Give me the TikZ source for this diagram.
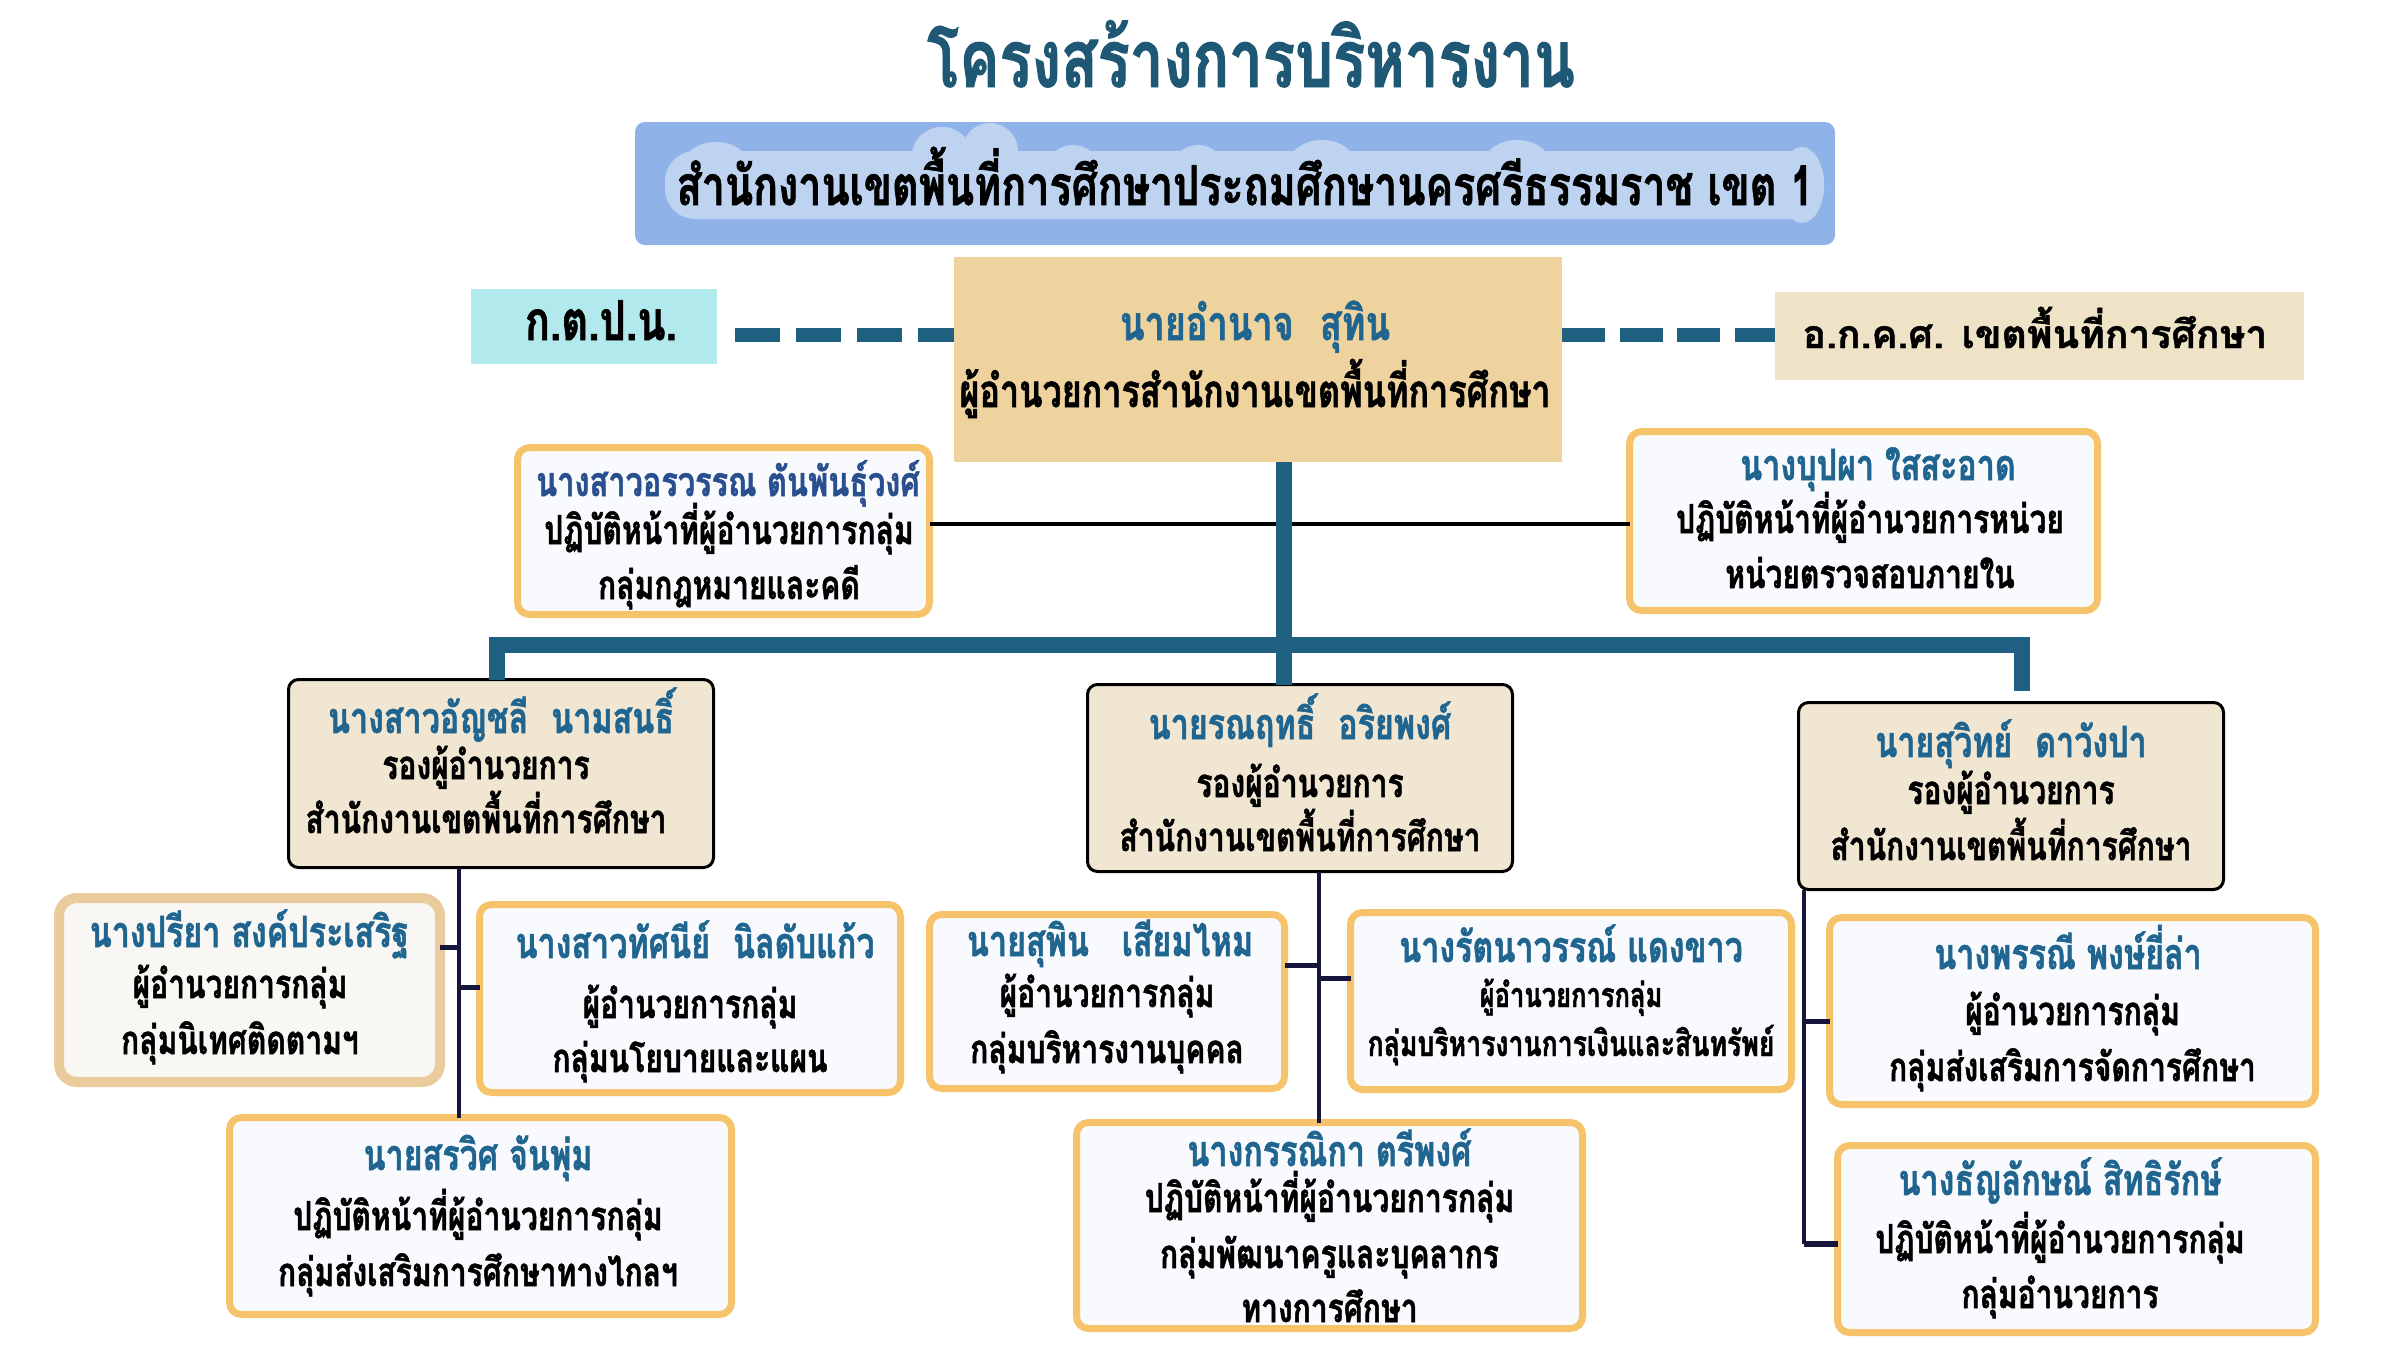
\documentclass[tikz,border=0pt]{standalone}
\usepackage{fontspec}
\setmainfont{Loma}[Script=Thai, FakeStretch=0.75, BoldFeatures={FakeBold=1.2}]
\newfontfamily\thaiwide{Loma}[Script=Thai, BoldFeatures={FakeBold=1.2}]
\definecolor{titlecol}{HTML}{1E5875}
\definecolor{bannerfill}{HTML}{8FB3E8}
\definecolor{glowfill}{HTML}{BDD3F0}
\definecolor{ktpnfill}{HTML}{B2E9ED}
\definecolor{dirfill}{HTML}{EED39E}
\definecolor{okksfill}{HTML}{EEE3C6}
\definecolor{teal}{HTML}{1F5F82}
\definecolor{nameblue}{HTML}{1F6590}
\definecolor{legalblue}{HTML}{2A4F8F}
\definecolor{orangeb}{HTML}{F6C36A}
\definecolor{boxfill}{HTML}{F8FAFD}
\definecolor{depfill}{HTML}{F1E6D2}
\definecolor{tanb}{HTML}{EACB9C}
\definecolor{tanfill}{HTML}{F9F7F3}
\definecolor{navy}{HTML}{16163A}
\begin{document}
\begin{tikzpicture}[x=1pt,y=-1pt,
  every node/.style={inner sep=0pt, outer sep=0pt},
  obox/.style={draw=orangeb, line width=7pt, rounded corners=12pt, fill=boxfill},
  dbox/.style={draw=black, line width=3pt, rounded corners=10pt, fill=depfill},
  tbox/.style={draw=tanb, line width=10pt, rounded corners=18pt, fill=tanfill},
  tx/.style={anchor=base, font=\bfseries\fontsize{40}{48}\selectfont},
  nm/.style={anchor=base, text=nameblue, font=\bfseries\fontsize{43}{50}\selectfont},
  bus/.style={draw=teal, line width=16pt},
  thin/.style={draw=navy, line width=4pt},
  stub/.style={draw=navy, line width=5pt},
  bump/.style={fill=glowfill, draw=none}]
\path[use as bounding box] (0,0) rectangle (2400,1350);

% title
\node[anchor=base, text=titlecol, font=\bfseries\fontsize{80}{90}\selectfont] (title) at (1251,87) {โครงสร้างการบริหารงาน};

% banner
\node[fill=bannerfill, rounded corners=10pt, minimum width=1200pt, minimum height=123pt] (banner) at (1235,183.5) {};
\node[fill=glowfill, rounded corners=30pt, minimum width=1159pt, minimum height=68pt] (glow) at (1244.5,185) {};
\fill[bump] (716,164) ellipse [x radius=32, y radius=22];
\fill[bump] (942,155) ellipse [x radius=30, y radius=28];
\fill[bump] (990,151) ellipse [x radius=28, y radius=28];
\fill[bump] (1073,165) ellipse [x radius=24, y radius=20];
\fill[bump] (1198,165) ellipse [x radius=24, y radius=20];
\fill[bump] (1322,162) ellipse [x radius=32, y radius=22];
\fill[bump] (1517,162) ellipse [x radius=32, y radius=22];
\fill[bump] (1802,185) ellipse [x radius=22, y radius=38];
\node[tx, font=\bfseries\fontsize{55}{64}\selectfont] (bannertext) at (1245,205) {สำนักงานเขตพื้นที่การศึกษาประถมศึกษานครศรีธรรมราช เขต 1};

% top row
\node[fill=ktpnfill, minimum width=246pt, minimum height=75pt] (ktpn) at (594,326.5) {};
\node[tx, font=\bfseries\fontsize{55}{60}\selectfont] (ktpntext) at (601,340) {ก.ต.ป.น.};
\node[fill=dirfill, minimum width=608pt, minimum height=205pt] (dir) at (1258,359.5) {};
\node[nm, font=\bfseries\fontsize{48}{54}\selectfont] (dirname) at (1255,340) {นายอำนาจ\hspace{14pt} สุทิน};
\node[tx, font=\bfseries\fontsize{45.5}{50}\selectfont] (dirrole) at (1255,407) {ผู้อำนวยการสำนักงานเขตพื้นที่การศึกษา};
\node[fill=okksfill, minimum width=529pt, minimum height=88pt] (okks) at (2039.5,336) {};
\node[tx, font=\thaiwide\bfseries\fontsize{39}{44}\selectfont] (okkstext) at (2035,348) {อ.ก.ค.ศ. เขตพื้นที่การศึกษา};

\coordinate (dl) at (735,335);
\coordinate (dr) at (1562,335);
\draw[teal, line width=14pt, dash pattern=on 45pt off 16pt] (dl) -- (dl -| dir.west);
\draw[teal, line width=14pt, dash pattern=on 43pt off 14.5pt] (dr) -- (dr -| okks.west);

% legal + audit
\node[obox, minimum width=412pt, minimum height=167pt] (legal) at (723.5,531) {};
\node[obox, minimum width=468pt, minimum height=179pt] (audit) at (1863.5,521) {};
\draw[black, line width=4pt] (legal.east |- 0,524) -- (audit.west |- 0,524);

% deputies
\node[dbox, minimum width=425pt, minimum height=188pt] (depA) at (501,773.5) {};
\node[dbox, minimum width=425pt, minimum height=187pt] (depB) at (1300,778) {};
\node[dbox, minimum width=425pt, minimum height=187pt] (depC) at (2011,796) {};

% main teal connectors
\coordinate (busL) at (497,644.5);
\coordinate (busR) at (2021.5,644.5);
\coordinate (mainx) at (1284,0);
\draw[bus] (dir.south -| mainx) -- (depB.north -| mainx);
\draw[bus] (depA.north -| busL) -- (busL) -- (busR) -- (busR |- 0,691);

% groups
\node[tbox, minimum width=381pt, minimum height=184pt] (d1) at (249.5,990) {};
\node[obox, minimum width=421pt, minimum height=188pt] (d2) at (690,998.5) {};
\node[obox, minimum width=502pt, minimum height=197pt] (d3) at (480.5,1216) {};
\node[obox, minimum width=355pt, minimum height=174pt] (e1) at (1107,1001.5) {};
\node[obox, minimum width=441pt, minimum height=177pt] (e2) at (1571,1001) {};
\node[obox, minimum width=506pt, minimum height=206pt] (e3) at (1329.5,1225.5) {};
\node[obox, minimum width=486pt, minimum height=187pt] (f1) at (2072.5,1011) {};
\node[obox, minimum width=478pt, minimum height=187pt] (f2) at (2076.5,1239) {};

% thin connectors
\coordinate (ax) at (459,0);
\coordinate (bx) at (1319,0);
\coordinate (cx) at (1804,0);
\draw[thin] (depA.south -| ax) -- (d3.north -| ax);
\draw[stub] (d1.east |- 0,947) -- (ax |- 0,947);
\draw[stub] (ax |- 0,987) -- (d2.west |- 0,987);
\draw[thin] (depB.south -| bx) -- (e3.north -| bx);
\draw[stub] (e1.east |- 0,965) -- (bx |- 0,965);
\draw[stub] (bx |- 0,978) -- (e2.west |- 0,978);
\draw[thin] (depC.south -| cx) -- (cx |- 0,1244);
\draw[stub] (cx |- 0,1021) -- (f1.west |- 0,1021);
\draw[draw=navy, line width=6pt] (cx |- 0,1244) -- (f2.west |- 0,1244);

% texts
\node[nm, text=legalblue, font=\bfseries\fontsize{41}{50}\selectfont] (legal1) at (728,496) {นางสาวอรวรรณ ตันพันธุ์วงศ์};
\node[tx] (legal2) at (729,544) {ปฏิบัติหน้าที่ผู้อำนวยการกลุ่ม};
\node[tx] (legal3) at (729,599) {กลุ่มกฎหมายและคดี};

\node[nm] (audit1) at (1878,480) {นางบุปผา ใสสะอาด};
\node[tx] (audit2) at (1870,533) {ปฏิบัติหน้าที่ผู้อำนวยการหน่วย};
\node[tx] (audit3) at (1870,588) {หน่วยตรวจสอบภายใน};

\node[nm] (depA1) at (501,733) {นางสาวอัญชลี\hspace{12pt} นามสนธิ์};
\node[tx] (depA2) at (486,779) {รองผู้อำนวยการ};
\node[tx] (depA3) at (486,833) {สำนักงานเขตพื้นที่การศึกษา};

\node[nm] (depB1) at (1300,739) {นายรณฤทธิ์\hspace{12pt} อริยพงศ์};
\node[tx] (depB2) at (1300,797) {รองผู้อำนวยการ};
\node[tx] (depB3) at (1300,851) {สำนักงานเขตพื้นที่การศึกษา};

\node[nm] (depC1) at (2011,757) {นายสุวิทย์\hspace{12pt} ดาวังปา};
\node[tx] (depC2) at (2011,804) {รองผู้อำนวยการ};
\node[tx] (depC3) at (2011,860) {สำนักงานเขตพื้นที่การศึกษา};

\node[nm] (d11) at (249.5,947) {นางปรียา สงค์ประเสริฐ};
\node[tx] (d12) at (240,998) {ผู้อำนวยการกลุ่ม};
\node[tx] (d13) at (240,1054) {กลุ่มนิเทศติดตามฯ};

\node[nm] (d21) at (695,958) {นางสาวทัศนีย์\hspace{12pt} นิลดับแก้ว};
\node[tx] (d22) at (690,1018) {ผู้อำนวยการกลุ่ม};
\node[tx] (d23) at (690,1072) {กลุ่มนโยบายและแผน};

\node[nm] (d31) at (478,1170) {นายสรวิศ จันพุ่ม};
\node[tx] (d32) at (478,1230) {ปฏิบัติหน้าที่ผู้อำนวยการกลุ่ม};
\node[tx] (d33) at (478,1286) {กลุ่มส่งเสริมการศึกษาทางไกลฯ};

\node[nm] (e11) at (1110,956) {นายสุพิน\hspace{22pt} เสียมไหม};
\node[tx] (e12) at (1107,1007) {ผู้อำนวยการกลุ่ม};
\node[tx] (e13) at (1107,1063) {กลุ่มบริหารงานบุคคล};

\node[nm] (e21) at (1571,962) {นางรัตนาวรรณ์ แดงขาว};
\node[tx, font=\bfseries\fontsize{34}{40}\selectfont] (e22) at (1571,1007) {ผู้อำนวยการกลุ่ม};
\node[tx, font=\bfseries\fontsize{35.5}{40}\selectfont] (e23) at (1571,1056) {กลุ่มบริหารงานการเงินและสินทรัพย์};

\node[nm] (e31) at (1329.5,1166) {นางกรรณิกา ตรีพงศ์};
\node[tx] (e32) at (1329.5,1212) {ปฏิบัติหน้าที่ผู้อำนวยการกลุ่ม};
\node[tx] (e33) at (1329.5,1268) {กลุ่มพัฒนาครูและบุคลากร};
\node[tx] (e34) at (1329.5,1322) {ทางการศึกษา};

\node[nm] (f11) at (2068,969) {นางพรรณี พงษ์ยี่ล่า};
\node[tx] (f12) at (2072.5,1025) {ผู้อำนวยการกลุ่ม};
\node[tx] (f13) at (2072.5,1081) {กลุ่มส่งเสริมการจัดการศึกษา};

\node[nm] (f21) at (2060,1195) {นางธัญลักษณ์ สิทธิรักษ์};
\node[tx] (f22) at (2060,1253) {ปฏิบัติหน้าที่ผู้อำนวยการกลุ่ม};
\node[tx] (f23) at (2060,1308) {กลุ่มอำนวยการ};
\end{tikzpicture}
\end{document}
